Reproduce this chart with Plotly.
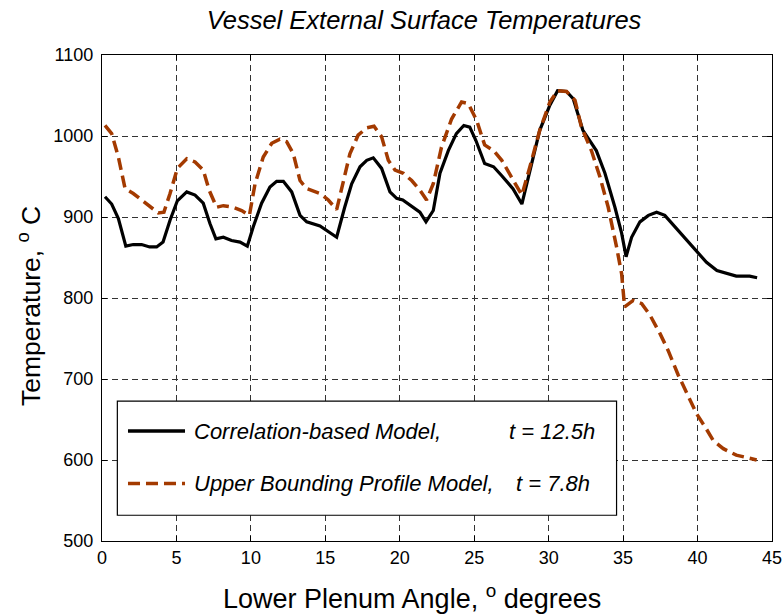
import plotly.graph_objects as go

# Correlation-based model (t = 12.5h)
corr_angle = [0.2, 0.65, 1.1, 1.6, 2.1, 2.66, 3.2, 3.67, 4.1, 4.57, 5.06, 5.69, 6.25, 6.8, 7.25, 7.65,
              8.15, 8.7, 9.27, 9.76, 10.16, 10.72, 11.28, 11.73, 12.18, 12.74, 13.3, 13.75, 14.64, 15.3,
              15.76, 16.3, 16.77, 17.33, 17.78, 18.22, 18.78, 19.34, 19.79, 20.2, 20.8, 21.35, 21.76,
              22.25, 22.7, 23.26, 23.8, 24.3, 24.7, 25.1, 25.7, 26.3, 26.85, 27.6, 28.2, 28.74, 29.4,
              30.08, 30.6, 31.2, 31.65, 32.3, 33.2, 33.78, 34.45, 34.9, 35.2, 35.57, 36.13, 36.7, 37.25,
              37.8, 38.48, 39.04, 39.83, 40.6, 41.3, 41.95, 42.6, 43.5, 44.0]
corr_temp = [925, 916, 898, 864, 866, 866, 863, 863, 869, 896, 920, 931, 927, 917, 892, 873,
             875, 871, 869, 864, 888, 917, 937, 944, 944, 931, 902, 894, 889, 881,
             875, 912, 941, 962, 970, 973, 960, 931, 923, 921, 913, 906, 894,
             908, 954, 982, 1003, 1013, 1011, 995, 966, 962, 951, 935, 916, 958, 1007,
             1038, 1056, 1055, 1046, 1007, 982, 954, 912, 880, 851, 875, 894, 902, 906,
             902, 888, 875, 859, 844, 834, 830, 827, 827, 825]

# Upper bounding profile model (t = 7.8h)
ubp_angle = [0.2, 0.65, 1.1, 1.55, 2.1, 2.67, 3.22, 3.78, 4.16, 4.57, 5.06, 5.69, 6.25, 6.8, 7.2, 7.7,
             8.15, 8.8, 9.38, 9.9, 10.28, 10.83, 11.4, 11.95, 12.4, 12.85, 13.3, 13.75, 14.64, 15.2,
             15.76, 16.2, 16.65, 17.2, 17.78, 18.27, 18.78, 19.23, 19.68, 20.24, 20.8, 21.36, 21.8,
             22.25, 22.8, 23.48, 24.15, 24.6, 25.17, 25.7, 26.3, 26.85, 27.6, 28.2, 28.74, 29.4,
             30.08, 30.6, 31.2, 31.77, 32.2, 32.87, 33.45, 34.0, 34.56, 34.9, 35.1, 35.68, 36.25,
             36.8, 37.48, 38.03, 38.7, 39.27, 39.94, 40.5, 41.06, 41.73, 42.6, 43.3, 43.97]
ubp_temp = [1013, 1003, 974, 935, 929, 921, 912, 905, 906, 929, 960, 972, 968, 958, 933, 912,
            914, 912, 908, 902, 941, 974, 991, 996, 993, 978, 945, 935, 929, 921,
            909, 941, 978, 1001, 1010, 1012, 999, 970, 958, 954, 945, 933, 921,
            941, 986, 1021, 1042, 1040, 1019, 989, 982, 970, 945, 927, 962, 1007,
            1042, 1056, 1055, 1044, 1011, 982, 949, 912, 863, 830, 789, 797, 793,
            779, 756, 735, 705, 682, 657, 641, 624, 614, 606, 603, 600]

x_ticks = [0, 5, 10, 15, 20, 25, 30, 35, 40, 45]
y_ticks = [500, 600, 700, 800, 900, 1000, 1100]

legend_names = ["Correlation-based Model,", "Upper Bounding Profile Model,"]
legend_times = ["t = 12.5h", "t = 7.8h"]

BLACK = "#000000"
ORANGE = "#A33A00"
FONT = "Liberation Sans, Arial, sans-serif"

fig = go.Figure()
fig.add_trace(go.Scatter(x=corr_angle, y=corr_temp, mode="lines",
                         line=dict(color=BLACK, width=3.2), name=legend_names[0], showlegend=False))
fig.add_trace(go.Scatter(x=ubp_angle, y=ubp_temp, mode="lines",
                         line=dict(color=ORANGE, width=3.5, dash="12px,6px"), name=legend_names[1],
                         showlegend=False))

axis_common = dict(showline=True, linecolor="black", linewidth=1.2, mirror="allticks",
                   ticks="inside", ticklen=5, tickcolor="black", automargin=False,
                   ticklabeloverflow="allow",
                   showgrid=True, gridcolor="#333333", gridwidth=1, griddash="6px,4px",
                   zeroline=False, tickfont=dict(family=FONT, size=18, color="black"))

fig.update_xaxes(range=[0, 45], tickvals=x_ticks, ticktext=[str(v) for v in x_ticks],
                 **axis_common)
fig.update_yaxes(range=[500, 1100], tickvals=y_ticks, ticktext=[str(v) for v in y_ticks],
                 ticklabelstandoff=4, **axis_common)

# manual legend box
shapes = [
    dict(type="rect", xref="paper", yref="paper", x0=0.0229, x1=0.768, y0=0.053, y1=0.288,
         line=dict(color="black", width=1.2), fillcolor="white", layer="above"),
    dict(type="line", xref="paper", yref="paper", x0=0.0388, x1=0.1239, y0=0.2263, y1=0.2263,
         line=dict(color=BLACK, width=3.5), layer="above"),
    dict(type="line", xref="paper", yref="paper", x0=0.0388, x1=0.1239, y0=0.1181, y1=0.1181,
         line=dict(color=ORANGE, width=3.5, dash="12px,6px"), layer="above"),
]
annotations = []
for yy, nm, tt, tx in [(0.2263, legend_names[0], legend_times[0], 0.604),
                       (0.1181, legend_names[1], legend_times[1], 0.615)]:
    annotations.append(dict(xref="paper", yref="paper", x=0.1345, y=yy, xanchor="left", yanchor="middle",
                            text="<i>" + nm + "</i>", showarrow=False,
                            font=dict(family=FONT, size=22, color="black")))
    annotations.append(dict(xref="paper", yref="paper", x=tx, y=yy, xanchor="left", yanchor="middle",
                            text="<i>" + tt + "</i>", showarrow=False,
                            font=dict(family=FONT, size=22, color="black")))

# axis titles
annotations.append(dict(xref="paper", yref="paper", x=0.4625, y=-0.115, xanchor="center", yanchor="middle",
                        text="Lower Plenum Angle, <sup>o</sup> degrees", showarrow=False,
                        font=dict(family=FONT, size=27, color="black")))
annotations.append(dict(xref="paper", yref="paper", x=-0.110, y=0.484, xanchor="center", yanchor="middle",
                        text="Temperature, <sup>o</sup> C", showarrow=False, textangle=-90,
                        font=dict(family=FONT, size=26.5, color="black")))

fig.update_layout(
    width=782, height=616,
    margin=dict(l=102, r=10, t=55, b=75),
    paper_bgcolor="white", plot_bgcolor="white",
    title=dict(text="<i>Vessel External Surface Temperatures</i>", x=0.4806, xref="paper",
               y=0.9675, yanchor="middle",
               font=dict(family=FONT, size=25.5, color="black")),
    shapes=shapes, annotations=annotations,
    showlegend=False,
)

# remove the default 8px page margin so the figure sits at the window's top-left corner
fig.write_html("out.html", config={"displayModeBar": False},
               post_script="document.body.style.margin='0';")
